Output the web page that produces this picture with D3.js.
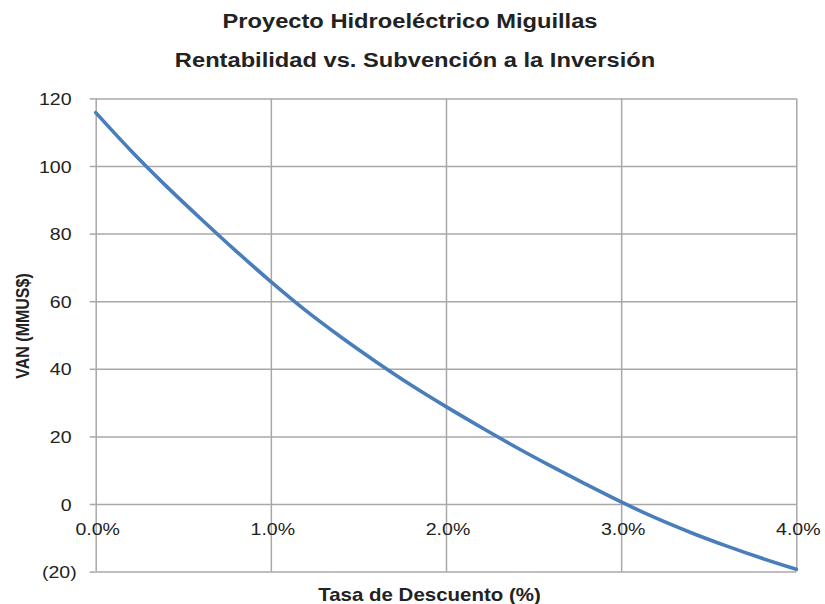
<!DOCTYPE html>
<html><head><meta charset="utf-8">
<script src="https://cdn.jsdelivr.net/npm/d3@7"></script>
<style>body{margin:0;background:#fff}svg{display:block}text{font-family:"Liberation Sans",Arial,sans-serif;fill:#222}</style>
</head><body><svg id="c" width="825" height="604"></svg>
<script>
const titleLines = ["Proyecto Hidroeléctrico Miguillas", "Rentabilidad vs. Subvención a la Inversión"];
const xTitle = "Tasa de Descuento (%)";
const yTitle = "VAN (MMUS$)";
const rates = [0,0.2,0.4,0.6,0.8,1.0,1.2,1.4,1.6,1.8,2.0,2.2,2.4,2.6,2.8,3.0,3.2,3.4,3.6,3.8,4.0];
const van   = [115.8,104.6,94.2,84.4,74.9,65.8,57.2,49.4,42.1,35.2,28.8,22.7,16.8,11.2,5.8,0.6,-4.2,-8.5,-12.4,-16.0,-19.3];
const xTicks = [0,1,2,3,4];
const yTicks = [-20,0,20,40,60,80,100,120];

const SX = 1.15;
const svg = d3.select("#c");
svg.append("rect").attr("width",825).attr("height",604).attr("fill","#fff");
const x = d3.scaleLinear().domain([0,4]).range([95.7,796.3]);
const y = d3.scaleLinear().domain([-20,120]).range([571.6,98.4]);
const grid = "#a8a8a8";

svg.append("g").attr("transform",`translate(${x(0)},0)`)
  .call(d3.axisLeft(y).tickValues(yTicks).tickSize(-(x(4)-x(0))).tickFormat(""))
  .call(g=>g.select(".domain").remove())
  .call(g=>g.selectAll("line").attr("stroke",grid).attr("stroke-width",1.5));
svg.append("g").attr("transform",`translate(0,${y(-20)})`)
  .call(d3.axisBottom(x).tickValues(xTicks).tickSize(-(y(-20)-y(120))).tickFormat(""))
  .call(g=>g.select(".domain").remove())
  .call(g=>g.selectAll("line").attr("stroke",grid).attr("stroke-width",1.5));
const ya = svg.append("g").attr("transform",`translate(${x(0)},0)`)
  .call(d3.axisLeft(y).tickValues(yTicks).tickSize(6).tickFormat(d=> d<0?`(${-d})`:`${d}`));
ya.select(".domain").remove();
ya.selectAll("line").attr("stroke",grid).attr("stroke-width",1.5);
ya.selectAll("text").attr("x",null).attr("dy",null).attr("text-anchor","end")
  .style("font-size","17px").style("fill","#222")
  .attr("transform",d=>`translate(${d<0?-19:-24.2},6) scale(${SX},1)`);
const xa = svg.append("g").attr("transform",`translate(0,${y(0)})`)
  .call(d3.axisBottom(x).tickValues(xTicks).tickSize(0).tickFormat(d=>d3.format(".1f")(d)+"%"));
xa.select(".domain").remove();
xa.selectAll("text").attr("y",null).attr("dy",null).attr("text-anchor","middle")
  .style("font-size","17px").style("fill","#222")
  .attr("transform",`translate(1.5,31) scale(${SX},1)`);

svg.append("path").datum(rates.map((r,i)=>[r,van[i]]))
  .attr("fill","none").attr("stroke","#4a7ebb").attr("stroke-width",3.6)
  .attr("stroke-linejoin","round").attr("stroke-linecap","round")
  .attr("d",d3.line().x(d=>x(d[0])).y(d=>y(d[1])).curve(d3.curveMonotoneX));

const tpos = [[410,27.7],[415,66.7]];
titleLines.forEach((t,i)=>{
  svg.append("text").text(t).attr("text-anchor","middle")
    .attr("transform",`translate(${tpos[i][0]},${tpos[i][1]}) scale(${SX},1)`)
    .style("font-size","20.6px").style("font-weight","bold");
});
svg.append("text").text(xTitle).attr("text-anchor","middle")
  .attr("transform",`translate(429.5,600.5) scale(${SX},1)`)
  .style("font-size","17.8px").style("font-weight","bold");
svg.append("text").text(yTitle).attr("text-anchor","middle")
  .attr("transform",`translate(29.3,326) scale(${SX},1) rotate(-90)`)
  .style("font-size","16px").style("font-weight","bold");
</script></body></html>
